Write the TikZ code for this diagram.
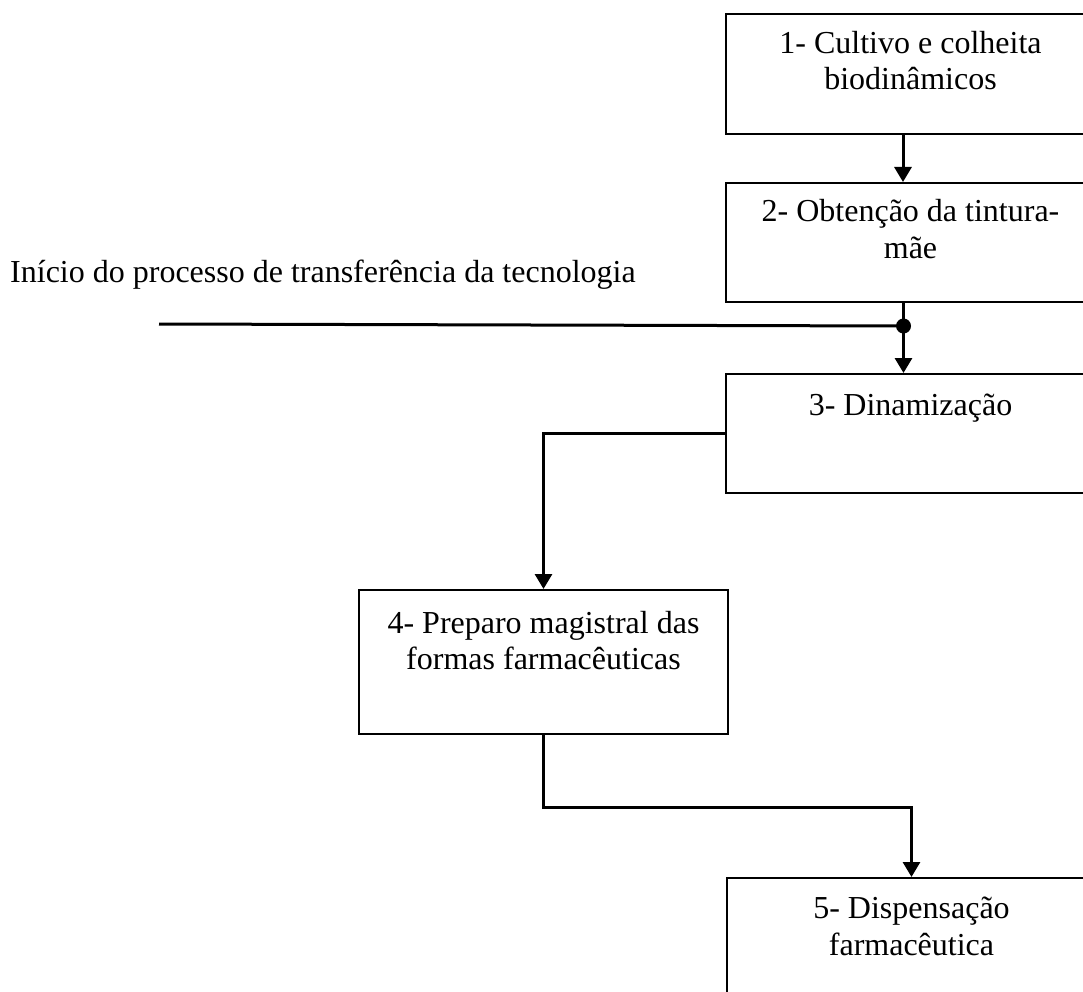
\documentclass[tikz,border=0pt]{standalone}
\usepackage{fontspec}
\setmainfont{Liberation Serif}
\usetikzlibrary{arrows.meta,calc}
\begin{document}
\begin{tikzpicture}[x=1pt,y=-1pt,
  box/.style={draw, line width=2pt, rectangle, inner sep=0pt, anchor=north west, minimum width=369pt},
  txt/.style={anchor=base, inner sep=0pt, font=\fontsize{32}{36.7}\selectfont},
  conn/.style={line width=3pt},
  arr/.style={conn, -{Triangle[width=17pt,length=15pt]}}
]
\useasboundingbox (0,0) rectangle (1083,992);
\clip (0,0) rectangle (1083,992);

% boxes
\node[box, minimum height=120pt] (b1) at (725,13) {};
\node[box, minimum height=119pt] (b2) at (725,182) {};
\node[box, minimum height=119pt] (b3) at (725,373) {};
\node[box, minimum height=144pt] (b4) at (358,589) {};
\node[box, minimum height=130pt] (b5) at (726,877) {};

% texts
\node[txt] (t1a) at ($(b1.north)+(0,40.5)$) {1- Cultivo e colheita};
\node[txt] (t1b) at ($(b1.north)+(0,77)$) {biodinâmicos};
\node[txt] (t2a) at ($(b2.north)+(0,39.7)$) {2- Obtenção da tintura-};
\node[txt] (t2b) at ($(b2.north)+(0,76.4)$) {mãe};
\node[txt] (t3a) at ($(b3.north)+(0,42)$) {3- Dinamização};
\node[txt] (t4a) at ($(b4.north)+(0,44)$) {4- Preparo magistral das};
\node[txt] (t4b) at ($(b4.north)+(0,80)$) {formas farmacêuticas};
\node[txt] (t5a) at ($(b5.north)+(0,41)$) {5- Dispensação};
\node[txt] (t5b) at ($(b5.north)+(0,78)$) {farmacêutica};

\node[txt, anchor=base west] (lbl) at (10,282) {Início do processo de transferência da tecnologia};

% connectors
\draw[arr] ($(b1.south)+(-7.5,0)$) -- ($(b2.north)+(-7.5,0)$);
\coordinate (j) at ($(b2.south)+(-7,23)$);
\coordinate (ls) at (159,324);
\draw[conn] (ls) -- (j);
\draw[arr] ($(b2.south)+(-7,0)$) -- ($(b3.north)+(-7,0)$);
\fill (j) circle (7.5);
\draw[arr] (b3.west) -| (b4.north);
\draw[arr] (b4.south) -- ++(0,72) -| (b5.north);
\end{tikzpicture}
\end{document}
